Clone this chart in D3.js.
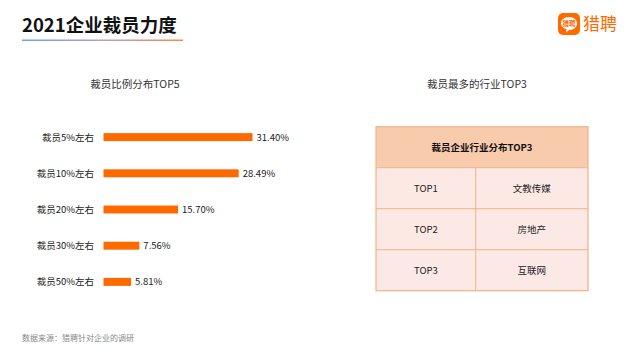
<!DOCTYPE html>
<html>
<head>
<meta charset="utf-8">
<script src="https://cdn.jsdelivr.net/npm/d3@7"></script>
<style>
  body { margin: 0; background: #fff; }
  svg { display: block; font-family: "Noto Sans CJK SC", "Noto Sans", sans-serif; }
</style>
</head>
<body>
<div class="container"><svg width="630" height="354"></svg></div>
<script>
// bar chart data
var categories = ["裁员5%左右", "裁员10%左右", "裁员20%左右", "裁员30%左右", "裁员50%左右"];
var values = [31.40, 28.49, 15.70, 7.56, 5.81];

// table data
var tableHeader = "裁员企业行业分布TOP3";
var ranks = ["TOP1", "TOP2", "TOP3"];
var industries = ["文教传媒", "房地产", "互联网"];

var svg = d3.select(".container").select("svg");
var orange = "#ff6a00";

// title + gradient underline
var defs = svg.append("defs");
var grad = defs.append("linearGradient").attr("id", "uline");
grad.append("stop").attr("offset", "0%").attr("stop-color", "#62a6f2");
grad.append("stop").attr("offset", "55%").attr("stop-color", "#c09cb4");
grad.append("stop").attr("offset", "100%").attr("stop-color", "#ff8640");

svg.append("text")
    .attr("x", 22).attr("y", 31.5)
    .attr("font-size", 18.5).attr("font-weight", "bold")
    .attr("fill", "#111")
    .text("2021企业裁员力度");

svg.append("rect")
    .attr("x", 22).attr("y", 39.5)
    .attr("width", 161).attr("height", 1.5)
    .attr("fill", "url(#uline)");

// logo
var logo = svg.append("g").attr("transform", "translate(558,13)");
logo.append("rect")
    .attr("width", 22).attr("height", 22).attr("rx", 5)
    .attr("fill", "#ff6a00");
logo.append("path")
    .attr("d", "M11,4 C16,4 19,7 19,10.5 C19,14 16,17 11,17 L8,19.5 L8.5,16.3 C5,15.3 3,13 3,10.5 C3,7 6,4 11,4 Z")
    .attr("fill", "#fff");
logo.append("text")
    .attr("x", 11).attr("y", 13.3)
    .attr("text-anchor", "middle")
    .attr("font-size", 6.5).attr("font-weight", "bold")
    .attr("fill", orange)
    .text("猎聘");
svg.append("text")
    .attr("x", 583).attr("y", 30)
    .attr("font-size", 17)
    .attr("fill", orange)
    .text("猎聘");

// left chart
svg.append("text")
    .attr("x", 135).attr("y", 88)
    .attr("text-anchor", "middle")
    .attr("font-size", 10.5).attr("fill", "#333")
    .text("裁员比例分布TOP5");

var x = d3.scaleLinear()
    .domain([0, 31.40])
    .range([103.5, 252.5]);

var y = d3.scaleBand()
    .domain(categories)
    .range([119, 300])
    .paddingInner(0.78)
    .paddingOuter(0.39);

var bars = svg.append("g").attr("class", "bars");
bars.selectAll("rect")
    .data(values)
    .enter().append("rect")
    .attr("x", x(0))
    .attr("y", function (d, i) { return y(categories[i]); })
    .attr("width", function (d) { return x(d) - x(0); })
    .attr("height", y.bandwidth())
    .attr("fill", orange);

bars.selectAll("text.val")
    .data(values)
    .enter().append("text")
    .attr("class", "val")
    .attr("x", function (d) { return x(d) + 4; })
    .attr("y", function (d, i) { return y(categories[i]) + y.bandwidth() / 2; })
    .attr("dy", "0.36em")
    .attr("font-size", 9.5).attr("fill", "#222")
    .text(function (d) { return d.toFixed(2) + "%"; });

bars.selectAll("text.cat")
    .data(categories)
    .enter().append("text")
    .attr("class", "cat")
    .attr("x", 94)
    .attr("y", function (d) { return y(d) + y.bandwidth() / 2; })
    .attr("dy", "0.36em")
    .attr("text-anchor", "end")
    .attr("font-size", 9.5).attr("fill", "#222")
    .text(function (d) { return d; });

// right table
svg.append("text")
    .attr("x", 477).attr("y", 88)
    .attr("text-anchor", "middle")
    .attr("font-size", 10.5).attr("fill", "#333")
    .text("裁员最多的行业TOP3");

var tx0 = 376, tx1 = 588, tcol = 475.7;
var ty = d3.scaleLinear().domain([0, 4]).range([126.7, 290.7]);
var border = "#f4b183";

var table = svg.append("g").attr("class", "table");
table.append("rect")
    .attr("x", tx0).attr("y", ty(0))
    .attr("width", tx1 - tx0).attr("height", ty(1) - ty(0))
    .attr("fill", "#f8cbad");
table.append("text")
    .attr("x", (tx0 + tx1) / 2).attr("y", (ty(0) + ty(1)) / 2)
    .attr("dy", "0.36em").attr("text-anchor", "middle")
    .attr("font-size", 9.5).attr("font-weight", "bold").attr("fill", "#111")
    .text(tableHeader);

var rows = table.selectAll("g.row")
    .data(ranks)
    .enter().append("g")
    .attr("class", "row");
rows.append("rect")
    .attr("x", tx0).attr("y", function (d, i) { return ty(i + 1); })
    .attr("width", tx1 - tx0)
    .attr("height", function (d, i) { return ty(i + 2) - ty(i + 1); })
    .attr("fill", "#fce9e6");
rows.append("text")
    .attr("x", (tx0 + tcol) / 2)
    .attr("y", function (d, i) { return (ty(i + 1) + ty(i + 2)) / 2; })
    .attr("dy", "0.36em").attr("text-anchor", "middle")
    .attr("font-size", 9.5).attr("fill", "#222")
    .text(function (d) { return d; });
rows.append("text")
    .attr("x", (tcol + tx1) / 2)
    .attr("y", function (d, i) { return (ty(i + 1) + ty(i + 2)) / 2; })
    .attr("dy", "0.36em").attr("text-anchor", "middle")
    .attr("font-size", 9.5).attr("fill", "#222")
    .text(function (d, i) { return industries[i]; });

// grid lines
table.append("rect")
    .attr("x", tx0).attr("y", ty(0))
    .attr("width", tx1 - tx0).attr("height", ty(4) - ty(0))
    .attr("fill", "none").attr("stroke", border).attr("stroke-width", 1.2);
[1, 2, 3].forEach(function (i) {
    table.append("line")
        .attr("x1", tx0).attr("x2", tx1)
        .attr("y1", ty(i)).attr("y2", ty(i))
        .attr("stroke", border).attr("stroke-width", 1);
});
table.append("line")
    .attr("x1", tcol).attr("x2", tcol)
    .attr("y1", ty(1)).attr("y2", ty(4))
    .attr("stroke", border).attr("stroke-width", 1);

// source
svg.append("text")
    .attr("x", 22).attr("y", 341)
    .attr("font-size", 8).attr("fill", "#888")
    .text("数据来源：猎聘针对企业的调研");
</script>
</body>
</html>
